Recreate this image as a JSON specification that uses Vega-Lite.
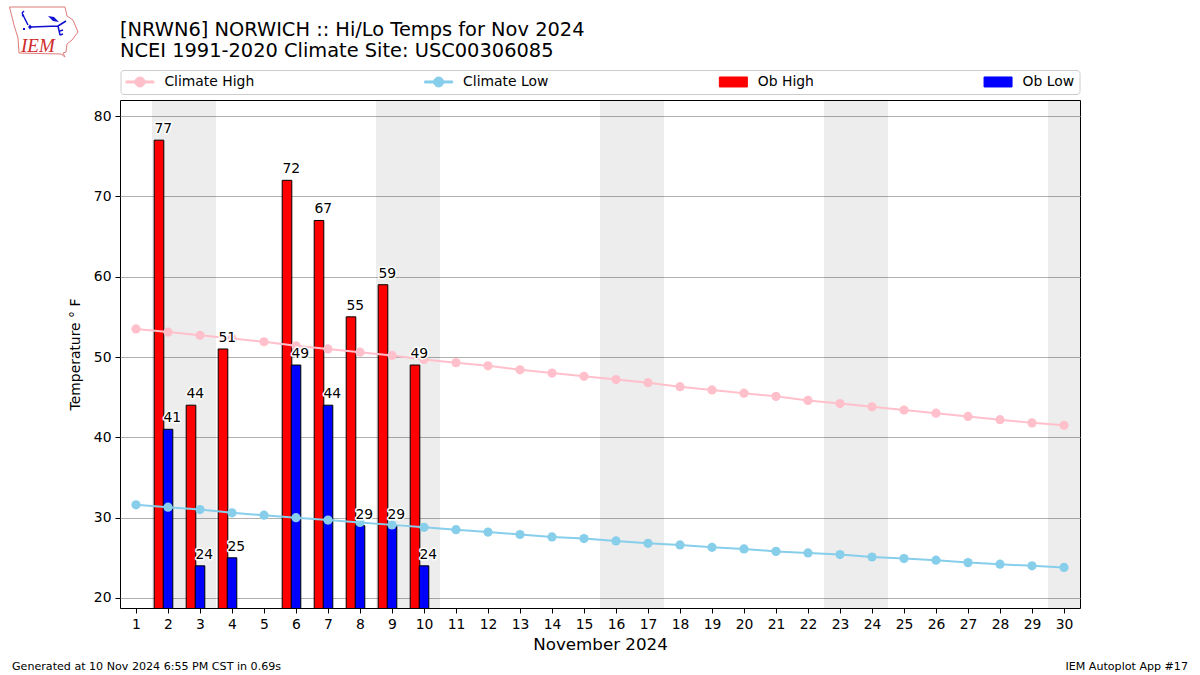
{"$schema":"https://vega.github.io/schema/vega-lite/v6.json","width":960,"height":508,"autosize":{"type":"none"},"padding":{"left":120,"top":100,"right":120,"bottom":67},"background":"white","config":{"font":"DejaVu Sans","view":{"stroke":"black","strokeWidth":1},"axis":{"domain":false,"tickColor":"black","tickSize":5,"labelColor":"black","labelFontSize":13.9,"titleColor":"black","titleFontWeight":"normal","labelPadding":4,"labelOverlap":false}},"title":{"text":["[NRWN6] NORWICH :: Hi/Lo Temps for Nov 2024","NCEI 1991-2020 Climate Site: USC00306085"],"anchor":"start","frame":"group","fontSize":19.4,"fontWeight":"normal","lineHeight":21,"offset":-56,"color":"black"},"datasets":{"obs":[{"day":2,"series":"Ob High","temp":77},{"day":3,"series":"Ob High","temp":44},{"day":4,"series":"Ob High","temp":51},{"day":6,"series":"Ob High","temp":72},{"day":7,"series":"Ob High","temp":67},{"day":8,"series":"Ob High","temp":55},{"day":9,"series":"Ob High","temp":59},{"day":10,"series":"Ob High","temp":49},{"day":2,"series":"Ob Low","temp":41},{"day":3,"series":"Ob Low","temp":24},{"day":4,"series":"Ob Low","temp":25},{"day":6,"series":"Ob Low","temp":49},{"day":7,"series":"Ob Low","temp":44},{"day":8,"series":"Ob Low","temp":29},{"day":9,"series":"Ob Low","temp":29},{"day":10,"series":"Ob Low","temp":24}],"climate":[{"day":1,"series":"Climate High","temp":53.5},{"day":2,"series":"Climate High","temp":53.1},{"day":3,"series":"Climate High","temp":52.7},{"day":4,"series":"Climate High","temp":52.3},{"day":5,"series":"Climate High","temp":51.9},{"day":6,"series":"Climate High","temp":51.4},{"day":7,"series":"Climate High","temp":51.0},{"day":8,"series":"Climate High","temp":50.6},{"day":9,"series":"Climate High","temp":50.2},{"day":10,"series":"Climate High","temp":49.7},{"day":11,"series":"Climate High","temp":49.3},{"day":12,"series":"Climate High","temp":48.9},{"day":13,"series":"Climate High","temp":48.4},{"day":14,"series":"Climate High","temp":48.0},{"day":15,"series":"Climate High","temp":47.6},{"day":16,"series":"Climate High","temp":47.2},{"day":17,"series":"Climate High","temp":46.8},{"day":18,"series":"Climate High","temp":46.3},{"day":19,"series":"Climate High","temp":45.9},{"day":20,"series":"Climate High","temp":45.5},{"day":21,"series":"Climate High","temp":45.1},{"day":22,"series":"Climate High","temp":44.6},{"day":23,"series":"Climate High","temp":44.2},{"day":24,"series":"Climate High","temp":43.8},{"day":25,"series":"Climate High","temp":43.4},{"day":26,"series":"Climate High","temp":43.0},{"day":27,"series":"Climate High","temp":42.6},{"day":28,"series":"Climate High","temp":42.2},{"day":29,"series":"Climate High","temp":41.8},{"day":30,"series":"Climate High","temp":41.5},{"day":1,"series":"Climate Low","temp":31.6},{"day":2,"series":"Climate Low","temp":31.3},{"day":3,"series":"Climate Low","temp":31.0},{"day":4,"series":"Climate Low","temp":30.6},{"day":5,"series":"Climate Low","temp":30.3},{"day":6,"series":"Climate Low","temp":30.0},{"day":7,"series":"Climate Low","temp":29.7},{"day":8,"series":"Climate Low","temp":29.4},{"day":9,"series":"Climate Low","temp":29.1},{"day":10,"series":"Climate Low","temp":28.8},{"day":11,"series":"Climate Low","temp":28.5},{"day":12,"series":"Climate Low","temp":28.2},{"day":13,"series":"Climate Low","temp":27.9},{"day":14,"series":"Climate Low","temp":27.6},{"day":15,"series":"Climate Low","temp":27.4},{"day":16,"series":"Climate Low","temp":27.1},{"day":17,"series":"Climate Low","temp":26.8},{"day":18,"series":"Climate Low","temp":26.6},{"day":19,"series":"Climate Low","temp":26.3},{"day":20,"series":"Climate Low","temp":26.1},{"day":21,"series":"Climate Low","temp":25.8},{"day":22,"series":"Climate Low","temp":25.6},{"day":23,"series":"Climate Low","temp":25.4},{"day":24,"series":"Climate Low","temp":25.1},{"day":25,"series":"Climate Low","temp":24.9},{"day":26,"series":"Climate Low","temp":24.7},{"day":27,"series":"Climate Low","temp":24.4},{"day":28,"series":"Climate Low","temp":24.2},{"day":29,"series":"Climate Low","temp":24.0},{"day":30,"series":"Climate Low","temp":23.8}],"weekends":[{"start":1.5,"end":3.5},{"start":8.5,"end":10.5},{"start":15.5,"end":17.5},{"start":22.5,"end":24.5},{"start":29.5,"end":30.5}]},"encoding":{"x":{"type":"quantitative","scale":{"domain":[0.5,30.5],"nice":false,"zero":false,"padding":0},"axis":{"values":[1,2,3,4,5,6,7,8,9,10,11,12,13,14,15,16,17,18,19,20,21,22,23,24,25,26,27,28,29,30],"grid":false,"format":"d","title":"November 2024","titleFontSize":16.7,"titlePadding":6,"labelOverlap":false}}},"layer":[{"data":{"name":"weekends"},"mark":{"type":"rect","fill":"#000000","fillOpacity":0.07},"encoding":{"x":{"field":"start","type":"quantitative"},"x2":{"field":"end"}}},{"data":{"name":"obs"},"transform":[{"filter":"datum.series=='Ob High'"}],"mark":{"type":"bar","size":9.6,"xOffset":-9,"stroke":"black","strokeWidth":1,"clip":true},"encoding":{"x":{"field":"day","type":"quantitative"},"y":{"field":"temp","type":"quantitative","scale":{"domain":[18.75,82],"nice":false,"zero":false},"axis":{"values":[20,30,40,50,60,70,80],"grid":true,"gridColor":"#b0b0b0","gridWidth":1,"title":"Temperature ° F","titleFontSize":13.9,"titlePadding":11}},"color":{"field":"series","type":"nominal","scale":{"domain":["Climate High","Climate Low","Ob High","Ob Low"],"range":["#ffc0cb","#87ceeb","#ff0000","#0000ff"]},"legend":{"orient":"none","legendX":0.5,"legendY":-30,"title":null,"columns":4,"columnPadding":167.7,"gridAlign":"each","padding":5,"strokeColor":"#cccccc","cornerRadius":3,"fillColor":"white","labelFontSize":13.9,"labelColor":"black","labelOffset":17.5,"symbolSize":100,"symbolOffset":7.5,"encoding":{"symbols":{"shape":{"value":{"expr":"indexof(['Ob High','Ob Low'],datum.value)>=0 ? 'M-2.8,-1H2.8V1H-2.8Z' : 'M-2.8,-0.2H2.8V0.2H-2.8ZM-1,0A1,1 0 1,1 1,0A1,1 0 1,1 -1,0Z'"}},"stroke":{"value":{"expr":"indexof(['Ob High','Ob Low'],datum.value)>=0 ? 'black' : 'transparent'"}},"strokeWidth":{"value":1},"opacity":{"value":1}}}}}}},{"data":{"name":"obs"},"transform":[{"filter":"datum.series=='Ob Low'"}],"mark":{"type":"bar","size":9.6,"xOffset":0,"stroke":"black","strokeWidth":1,"clip":true},"encoding":{"x":{"field":"day","type":"quantitative"},"y":{"field":"temp","type":"quantitative"},"color":{"field":"series","type":"nominal","legend":{"encoding":{"symbols":{"stroke":{"value":{"expr":"indexof(['Ob High','Ob Low'],datum.value)>=0 ? 'black' : 'transparent'"}},"strokeWidth":{"value":1}}}}}}},{"data":{"name":"climate"},"mark":{"type":"line","strokeWidth":2},"encoding":{"x":{"field":"day","type":"quantitative"},"y":{"field":"temp","type":"quantitative"},"color":{"field":"series","type":"nominal","legend":{"encoding":{"symbols":{"stroke":{"value":{"expr":"indexof(['Ob High','Ob Low'],datum.value)>=0 ? 'black' : 'transparent'"}},"strokeWidth":{"value":1}}}}}}},{"data":{"name":"climate"},"mark":{"type":"point","filled":true,"size":85,"opacity":1},"encoding":{"x":{"field":"day","type":"quantitative"},"y":{"field":"temp","type":"quantitative"},"color":{"field":"series","type":"nominal","legend":{"encoding":{"symbols":{"stroke":{"value":{"expr":"indexof(['Ob High','Ob Low'],datum.value)>=0 ? 'black' : 'transparent'"}},"strokeWidth":{"value":1}}}}}}},{"data":{"name":"obs"},"transform":[{"filter":"datum.series=='Ob High'"}],"mark":{"type":"text","align":"left","baseline":"alphabetic","dx":-13.5,"dy":-7,"fontSize":13.9,"stroke":"white","strokeWidth":3,"strokeJoin":"round"},"encoding":{"x":{"field":"day","type":"quantitative"},"y":{"field":"temp","type":"quantitative"},"text":{"field":"temp","type":"quantitative"}}},{"data":{"name":"obs"},"transform":[{"filter":"datum.series=='Ob Low'"}],"mark":{"type":"text","align":"left","baseline":"alphabetic","dx":-4.5,"dy":-7,"fontSize":13.9,"stroke":"white","strokeWidth":3,"strokeJoin":"round"},"encoding":{"x":{"field":"day","type":"quantitative"},"y":{"field":"temp","type":"quantitative"},"text":{"field":"temp","type":"quantitative"}}},{"data":{"name":"obs"},"transform":[{"filter":"datum.series=='Ob High'"}],"mark":{"type":"text","align":"left","baseline":"alphabetic","dx":-13.5,"dy":-7,"fontSize":13.9,"fill":"black"},"encoding":{"x":{"field":"day","type":"quantitative"},"y":{"field":"temp","type":"quantitative"},"text":{"field":"temp","type":"quantitative"}}},{"data":{"name":"obs"},"transform":[{"filter":"datum.series=='Ob Low'"}],"mark":{"type":"text","align":"left","baseline":"alphabetic","dx":-4.5,"dy":-7,"fontSize":13.9,"fill":"black"},"encoding":{"x":{"field":"day","type":"quantitative"},"y":{"field":"temp","type":"quantitative"},"text":{"field":"temp","type":"quantitative"}}},{"data":{"values":[{"note":"Generated at 10 Nov 2024 6:55 PM CST in 0.69s"}]},"mark":{"type":"text","align":"left","baseline":"alphabetic","dx":-108,"dy":62,"fontSize":11.1,"fill":"black"},"encoding":{"x":{"datum":0.5},"y":{"datum":18.75},"text":{"field":"note"}}},{"data":{"values":[{"note":"IEM Autoplot App #17"}]},"mark":{"type":"text","align":"right","baseline":"alphabetic","dx":108,"dy":62,"fontSize":11.1,"fill":"black"},"encoding":{"x":{"datum":30.5},"y":{"datum":18.75},"text":{"field":"note"}}},{"data":{"values":[{"logo":"outline"}]},"mark":{"type":"point","filled":false,"size":4,"stroke":"#e07a7a","strokeWidth":1,"opacity":1,"xOffset":-76,"yOffset":-70,"shape":"M-34.5,-23L21,-23L23,-14L29,-10L34,2L28,10L23,14L22,22L19,23L21,27L17,24L-25,23L-26,8L-30,-5Z"},"encoding":{"x":{"datum":0.5},"y":{"datum":82}}},{"data":{"values":[{"logo":"wind"}]},"mark":{"type":"point","filled":false,"size":4,"stroke":"#1010d0","strokeWidth":1.5,"opacity":1,"xOffset":-76,"yOffset":-70,"shape":"M-13,-3L14,-4M14,-4L22,-9M14,-4L16,5M-22,-17L-16,-5M-22,-17L-20,-19M-22,-14L-20,-15M16,5L19,4M16,1L19,0"},"encoding":{"x":{"datum":0.5},"y":{"datum":82}}},{"data":{"values":[{"logo":"blobs"}]},"mark":{"type":"point","filled":true,"size":4,"fill":"#1010d0","opacity":1,"xOffset":-76,"yOffset":-70,"shape":"M-16,-3L-14,-5.5L-12,-3L-14,-0.5ZM4,-14L10,-13L15,-8L9,-9ZM-21,-2L-19,-2L-19,0L-21,0Z"},"encoding":{"x":{"datum":0.5},"y":{"datum":82}}},{"data":{"values":[{"logo":"IEM"}]},"mark":{"type":"text","align":"left","baseline":"alphabetic","font":"Liberation Serif","fontStyle":"italic","fontSize":19,"fill":"#d02a2a","dx":-99,"dy":-48},"encoding":{"x":{"datum":0.5},"y":{"datum":82},"text":{"field":"logo"}}}]}
